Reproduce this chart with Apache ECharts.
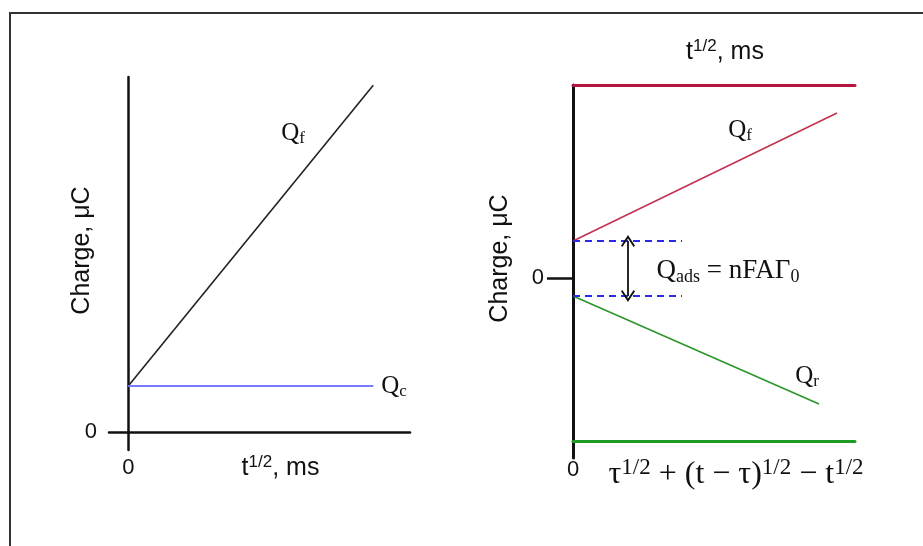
<!DOCTYPE html>
<html>
<head>
<meta charset="utf-8">
<script src="https://cdn.jsdelivr.net/npm/echarts@6/dist/echarts.min.js"></script>
<style>
  html, body { margin: 0; padding: 0; background: #fff; }
  #frame { position: absolute; left: 9px; top: 12px; width: 940px; height: 560px;
           border-left: 2px solid #333; border-top: 2px solid #333; }
  #chart { position: absolute; left: 0; top: 0; width: 923px; height: 546px; }
</style>
</head>
<body>
<div id="frame"></div>
<div id="chart"></div>
<script>
// Left panel: single potential step (charge vs t^1/2)
const leftQf = [[0, 1], [7, 7.54]];       // faradaic + capacitive charge
const leftQc = [[0, 1], [7, 1]];          // capacitive charge only

// Right panel: double potential step with adsorbed species
const rightQf = [[0, 3.7], [26.4, 16.5]];   // forward step
const rightQr = [[0, -1.8], [24.6, -12.6]]; // reverse step
const adsTop = 3.7;     // intercept of the forward line
const adsBottom = -1.8; // intercept of the reverse line
const adsLineEnd = 10.9;
const arrowX = 5.5;

const zeroTick = [0];

const sans = 'Liberation Sans, Arial, sans-serif';
const serif = 'Liberation Serif, Times New Roman, serif';

const tNameRich = {
  a: { fontFamily: sans, fontSize: 25, lineHeight: 28, color: '#111' },
  s: { fontFamily: sans, fontSize: 17, lineHeight: 17, color: '#111', padding: [0, 0, 11, 0] }
};
const mathRich = {
  m: { fontFamily: serif, fontSize: 25, lineHeight: 30, color: '#111' },
  s: { fontFamily: serif, fontSize: 18, lineHeight: 18, color: '#111', padding: [0, 0, 12, 0] },
  b: { fontFamily: serif, fontSize: 17, lineHeight: 17, color: '#111', padding: [11, 0, 0, 0] }
};
const formulaRich = {
  m: { fontFamily: serif, fontSize: 32, lineHeight: 34, color: '#111' },
  s: { fontFamily: serif, fontSize: 23, lineHeight: 23, color: '#111', padding: [0, 0, 14, 0] }
};
const adsRich = {
  m: { fontFamily: serif, fontSize: 27, lineHeight: 30, color: '#111' },
  b: { fontFamily: serif, fontSize: 18, lineHeight: 18, color: '#111', padding: [12, 0, 0, 0] }
};

const chart = echarts.init(document.getElementById('chart'), null, { renderer: 'canvas' });

function qLabel(coord, text, rich) {
  return {
    coord: coord,
    symbol: 'circle',
    symbolSize: 0,
    label: { show: true, position: 'inside', formatter: text, rich: rich || mathRich }
  };
}

const arrowHead = 'path://M0,0 L6,8 L4.8,9 L0,2.6 L-4.8,9 L-6,8 Z';

chart.setOption({
  animation: false,
  backgroundColor: 'transparent',
  grid: [
    { left: 109, top: 77, width: 301, height: 373 },
    { left: 573, top: 85, width: 282, height: 373 }
  ],
  xAxis: [
    {
      gridIndex: 0, type: 'value', min: -0.55, max: 8.05,
      axisLine: { onZero: true, lineStyle: { color: '#111', width: 2.5 } },
      axisTick: { show: false },
      splitLine: { show: false },
      axisLabel: { customValues: zeroTick, margin: 7, fontFamily: sans, fontSize: 22, color: '#111' },
      name: '{a|t}{s|1/2}{a|, ms}',
      nameLocation: 'middle', nameGap: 4, nameMoveOverlap: false,
      nameTextStyle: { rich: tNameRich, padding: [0, 0, 0, 42] }
    },
    {
      gridIndex: 1, type: 'value', min: 0, max: 28.2, position: 'top',
      axisLine: { onZero: false, lineStyle: { color: '#b5163f', width: 3 } },
      axisTick: { show: false },
      splitLine: { show: false },
      axisLabel: { show: false },
      name: '{a|t}{s|1/2}{a|, ms}',
      nameLocation: 'middle', nameGap: 19, nameMoveOverlap: false,
      nameTextStyle: { rich: tNameRich, padding: [0, 0, 0, 22] }
    },
    {
      gridIndex: 1, type: 'value', min: 0, max: 28.2, position: 'bottom', offset: -17,
      axisLine: { onZero: false, lineStyle: { color: '#1f9a25', width: 3 } },
      axisTick: { show: false },
      splitLine: { show: false },
      axisLabel: { customValues: zeroTick, margin: 18, fontFamily: sans, fontSize: 22, color: '#111' },
      name: '{m|τ}{s|1/2}{m| + (t − τ)}{s|1/2}{m| − t}{s|1/2}',
      nameLocation: 'middle', nameGap: 17, nameMoveOverlap: false,
      nameTextStyle: { rich: formulaRich, padding: [0, 0, 0, 44] }
    }
  ],
  yAxis: [
    {
      gridIndex: 0, type: 'value', min: -0.39, max: 7.72,
      axisLine: { onZero: true, lineStyle: { color: '#111', width: 2.5 } },
      axisTick: { show: false },
      splitLine: { show: false },
      axisLabel: { customValues: zeroTick, margin: 12, fontFamily: sans, fontSize: 22, color: '#111' },
      name: 'Charge, μC',
      nameLocation: 'middle', nameGap: 14, nameMoveOverlap: false,
      nameTextStyle: { fontFamily: sans, fontSize: 25, color: '#111', padding: [0, 0, 0, 26] }
    },
    {
      gridIndex: 1, type: 'value', min: -18, max: 19.3,
      axisLine: { onZero: false, lineStyle: { color: '#111', width: 3 } },
      axisTick: { show: true, customValues: zeroTick, length: 26, lineStyle: { color: '#111', width: 2.5 } },
      splitLine: { show: false },
      axisLabel: { customValues: zeroTick, margin: 29, fontFamily: sans, fontSize: 22, color: '#111' },
      name: 'Charge, μC',
      nameLocation: 'middle', nameGap: 60, nameMoveOverlap: false,
      nameTextStyle: { fontFamily: sans, fontSize: 25, color: '#111', padding: [0, 0, 0, 26] }
    }
  ],
  series: [
    {
      type: 'line', xAxisIndex: 0, yAxisIndex: 0, data: leftQf,
      symbol: 'none', lineStyle: { color: '#222', width: 1.6 },
      markPoint: { data: [qLabel([4.71, 6.5], '{m|Q}{b|f}')] }
    },
    {
      type: 'line', xAxisIndex: 0, yAxisIndex: 0, data: leftQc,
      symbol: 'none', lineStyle: { color: '#7a7aff', width: 2 },
      endLabel: { show: true, distance: 8, formatter: '{m|Q}{b|c}', rich: mathRich }
    },
    {
      type: 'line', xAxisIndex: 1, yAxisIndex: 1, data: rightQf,
      symbol: 'none', lineStyle: { color: '#c2304f', width: 1.6 },
      markPoint: { data: [qLabel([16.7, 14.8], '{m|Q}{b|f}')] }
    },
    {
      type: 'line', xAxisIndex: 1, yAxisIndex: 1, data: rightQr,
      symbol: 'none', lineStyle: { color: '#2c962c', width: 1.6 },
      markPoint: {
        data: [
          qLabel([23.4, -9.8], '{m|Q}{b|r}'),
          qLabel([15.5, 0.7], '{m|Q}{b|ads}{m| = nFAΓ}{b|0}', adsRich)
        ]
      },
      markLine: {
        silent: true,
        label: { show: false },
        data: [
          [
            { coord: [0, adsTop], symbol: 'none', lineStyle: { color: '#2a2ae8', width: 1.8, type: [7, 5] } },
            { coord: [adsLineEnd, adsTop], symbol: 'none' }
          ],
          [
            { coord: [0, adsBottom], symbol: 'none', lineStyle: { color: '#2a2ae8', width: 1.8, type: [7, 5] } },
            { coord: [adsLineEnd, adsBottom], symbol: 'none' }
          ],
          [
            { coord: [arrowX, adsTop], symbol: arrowHead, symbolSize: [14, 12],
              lineStyle: { color: '#111', width: 1.8, type: 'solid' } },
            { coord: [arrowX, adsBottom], symbol: arrowHead, symbolSize: [14, 12] }
          ]
        ]
      }
    }
  ]
});
</script>
</body>
</html>
